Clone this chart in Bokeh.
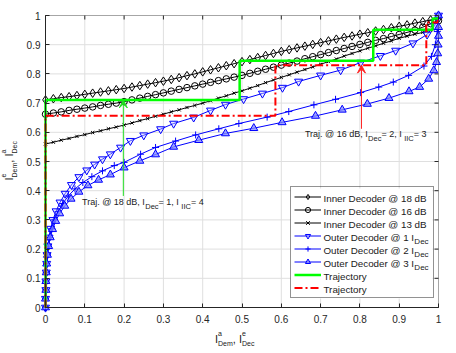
from math import pi
from bokeh.plotting import figure
from bokeh.models import (Range1d, FixedTicker, NumeralTickFormatter, Label,
                          Arrow, VeeHead, Legend, LegendItem, BoxAnnotation)
from bokeh.embed import file_html
from bokeh.resources import INLINE

# ---------------- data ----------------
inner_x = [0.00, 0.02, 0.04, 0.06, 0.08, 0.10, 0.12, 0.14, 0.16, 0.18,
           0.20, 0.22, 0.24, 0.26, 0.28, 0.30, 0.32, 0.34, 0.36, 0.38,
           0.40, 0.42, 0.44, 0.46, 0.48, 0.50, 0.52, 0.54, 0.56, 0.58,
           0.60, 0.62, 0.64, 0.66, 0.68, 0.70, 0.72, 0.74, 0.76, 0.78,
           0.80, 0.82, 0.84, 0.86, 0.88, 0.90, 0.92, 0.94, 0.96, 0.98, 1.00]

inner_18dB = [0.711, 0.715, 0.719, 0.722, 0.726, 0.730, 0.734, 0.738, 0.742, 0.746,
              0.750, 0.755, 0.760, 0.765, 0.770, 0.775, 0.781, 0.787, 0.794, 0.800,
              0.807, 0.814, 0.821, 0.828, 0.835, 0.842, 0.849, 0.856, 0.863, 0.870,
              0.877, 0.883, 0.889, 0.895, 0.901, 0.907, 0.913, 0.919, 0.925, 0.930,
              0.936, 0.941, 0.947, 0.952, 0.958, 0.963, 0.968, 0.974, 0.979, 0.985, 0.990]

inner_16dB = [0.662, 0.666, 0.670, 0.675, 0.679, 0.683, 0.687, 0.692, 0.696, 0.700,
              0.705, 0.711, 0.717, 0.723, 0.729, 0.735, 0.741, 0.747, 0.753, 0.759,
              0.765, 0.771, 0.777, 0.783, 0.789, 0.795, 0.802, 0.809, 0.816, 0.823,
              0.830, 0.837, 0.844, 0.852, 0.859, 0.866, 0.873, 0.880, 0.887, 0.894,
              0.901, 0.908, 0.915, 0.921, 0.928, 0.935, 0.942, 0.950, 0.960, 0.972, 0.982]

inner_13dB = [0.560, 0.566, 0.573, 0.579, 0.586, 0.592, 0.599, 0.605, 0.612, 0.618,
              0.625, 0.632, 0.640, 0.647, 0.655, 0.662, 0.670, 0.677, 0.685, 0.692,
              0.700, 0.708, 0.717, 0.725, 0.734, 0.742, 0.751, 0.760, 0.770, 0.779,
              0.788, 0.797, 0.806, 0.815, 0.824, 0.833, 0.842, 0.851, 0.861, 0.870,
              0.879, 0.888, 0.896, 0.905, 0.913, 0.922, 0.929, 0.936, 0.942, 0.949, 0.955]

outer1_x = [0.000, 0.000, 0.001, 0.001, 0.002, 0.003, 0.004, 0.006, 0.009, 0.013,
            0.019, 0.027, 0.037, 0.050, 0.066, 0.085, 0.105, 0.125, 0.145, 0.165,
            0.191, 0.216, 0.250, 0.293, 0.326, 0.377, 0.420, 0.458, 0.504, 0.552,
            0.603, 0.644, 0.700, 0.751, 0.802, 0.852, 0.891, 0.935, 0.971, 0.990, 1.000]
outer1_y = [0.000, 0.030, 0.060, 0.090, 0.120, 0.150, 0.180, 0.210, 0.240, 0.270,
            0.300, 0.330, 0.360, 0.390, 0.420, 0.447, 0.470, 0.490, 0.508, 0.525,
            0.548, 0.571, 0.590, 0.611, 0.630, 0.651, 0.675, 0.695, 0.714, 0.733,
            0.753, 0.774, 0.795, 0.813, 0.839, 0.862, 0.880, 0.905, 0.935, 0.965, 1.000]

outer2_x = [0.000, 0.000, 0.001, 0.001, 0.002, 0.003, 0.005, 0.007, 0.011, 0.016,
            0.023, 0.032, 0.044, 0.058, 0.075, 0.095, 0.118, 0.145, 0.175, 0.200,
            0.242, 0.280, 0.331, 0.382, 0.441, 0.492, 0.564, 0.619, 0.683, 0.738,
            0.802, 0.848, 0.885, 0.924, 0.963, 0.982, 0.992, 0.997, 1.000]
outer2_y = [0.000, 0.030, 0.060, 0.090, 0.120, 0.150, 0.180, 0.210, 0.240, 0.270,
            0.300, 0.328, 0.356, 0.382, 0.406, 0.428, 0.448, 0.468, 0.486, 0.497,
            0.525, 0.548, 0.570, 0.591, 0.612, 0.630, 0.652, 0.671, 0.694, 0.713,
            0.736, 0.755, 0.772, 0.795, 0.827, 0.860, 0.900, 0.945, 1.000]

outer3_x = [0.000, 0.000, 0.001, 0.001, 0.002, 0.003, 0.005, 0.008, 0.012, 0.018,
            0.026, 0.036, 0.049, 0.065, 0.085, 0.108, 0.135, 0.165, 0.200, 0.240,
            0.280, 0.326, 0.390, 0.458, 0.530, 0.602, 0.687, 0.755, 0.819, 0.874,
            0.925, 0.952, 0.975, 0.988, 0.995, 0.998, 0.999, 1.000, 1.000, 1.000]
outer3_y = [0.000, 0.030, 0.060, 0.090, 0.120, 0.150, 0.180, 0.210, 0.240, 0.268,
            0.296, 0.322, 0.348, 0.372, 0.396, 0.418, 0.437, 0.455, 0.479, 0.502,
            0.524, 0.550, 0.573, 0.596, 0.614, 0.634, 0.656, 0.677, 0.697, 0.717,
            0.740, 0.755, 0.783, 0.812, 0.840, 0.870, 0.900, 0.930, 0.960, 1.000]

traj18_x = [0.000, 0.000, 0.494, 0.494, 0.834, 0.834, 0.985, 0.985, 1.000]
traj18_y = [0.000, 0.711, 0.711, 0.845, 0.845, 0.951, 0.951, 0.990, 0.990]

traj16_x = [0.000, 0.000, 0.585, 0.585, 0.969, 0.969, 0.998, 0.998]
traj16_y = [0.000, 0.657, 0.657, 0.830, 0.830, 0.976, 0.976, 0.995]

x_ticks = [0.0, 0.1, 0.2, 0.3, 0.4, 0.5, 0.6, 0.7, 0.8, 0.9, 1.0]
y_ticks = [0.0, 0.1, 0.2, 0.3, 0.4, 0.5, 0.6, 0.7, 0.8, 0.9, 1.0]

legend_labels = ["Inner Decoder @ 18 dB", "Inner Decoder @ 16 dB", "Inner Decoder @ 13 dB",
                 "Outer Decoder @ 1 I", "Outer Decoder @ 2 I", "Outer Decoder @ 3 I",
                 "Trajectory", "Trajectory"]
legend_subscripts = [None, None, None, "Dec", "Dec", "Dec", None, None]

# ---------------- layout constants & helpers ----------------
FONT = "Liberation Sans"
AX = "#262626"
TXT = "#1a1a1a"
GRID = "#dfdfdf"
W, H = 456, 353
FL, FT, FW, FH = 45, 15, 393, 292          # axes box: left/top/width/height in page px
FB = FT + FH


def dx(px):                                 # page px -> data x
    return (px - FL) / FW


def dy(py):                                 # page px -> data y
    return (FB - py) / FH


# Liberation Sans (Arial metrics) advance widths per 1000 em
AW = {' ': 278, '.': 278, ',': 278, '=': 584, '@': 1015, 'I': 278, 'C': 722, 'D': 722,
      'B': 667, 'T': 611, 'O': 778, 'a': 556, 'c': 500, 'd': 556, 'e': 556, 'j': 222,
      'm': 833, 'n': 556, 'o': 556, 'r': 333, 't': 278, 'u': 556, 'y': 500}


def tw(s, size):
    return sum(AW.get(ch, 556) for ch in s) * size / 1000.0


# The drawing area covers the whole canvas; the [0,1]x[0,1] box sits inside it,
# so the axis titles (with sub/superscripts) are not clipped.
p = figure(width=W, height=H, output_backend="svg", toolbar_location=None,
           x_range=Range1d(dx(0), dx(W)), y_range=Range1d(dy(H), dy(0)),
           min_border=0, min_border_left=0, min_border_right=0,
           min_border_top=0, min_border_bottom=0)
p.background_fill_color = "white"
p.border_fill_color = "white"
p.outline_line_color = None
p.grid.visible = False


def style_axis(ax, ticks, standoff):
    ax.fixed_location = 0
    ax.bounds = (0, 1)
    ax.ticker = FixedTicker(ticks=ticks)
    ax.formatter = NumeralTickFormatter(format="0.[0]")
    ax.major_tick_in = 4
    ax.major_tick_out = 0
    ax.minor_tick_line_color = None
    ax.axis_line_color = AX
    ax.major_tick_line_color = AX
    ax.major_label_text_font = FONT
    ax.major_label_text_color = AX
    ax.major_label_text_font_size = "10px"
    ax.major_label_standoff = standoff


style_axis(p.xaxis[0], x_ticks, 7)
style_axis(p.yaxis[0], y_ticks, 5)

# grid lines inside the unit box
p.segment(x0=x_ticks, y0=[0.0] * len(x_ticks), x1=x_ticks, y1=[1.0] * len(x_ticks),
          line_color=GRID, line_width=1)
p.segment(x0=[0.0] * len(y_ticks), y0=y_ticks, x1=[1.0] * len(y_ticks), y1=y_ticks,
          line_color=GRID, line_width=1)

# ---------------- curves ----------------
BLUE = "#0000ff"
items = []

l = p.line(inner_x, inner_18dB, line_color="black", line_width=1)
m = p.scatter(inner_x, inner_18dB, marker="diamond", size=8.5, line_color="black", fill_color=None)
items.append([l, m])
l = p.line(inner_x, inner_16dB, line_color="black", line_width=1)
m = p.scatter(inner_x, inner_16dB, marker="circle", size=6.5, line_color="black", fill_color=None)
items.append([l, m])
l = p.line(inner_x, inner_13dB, line_color="black", line_width=1)
m = p.scatter(inner_x, inner_13dB, marker="x", size=4.5, line_color="black")
items.append([l, m])

l = p.line(outer1_x, outer1_y, line_color=BLUE, line_width=1)
m = p.scatter(outer1_x, outer1_y, marker="inverted_triangle", size=8, line_color=BLUE,
              fill_color="#c8ccff", fill_alpha=0.35)
items.append([l, m])
l = p.line(outer2_x, outer2_y, line_color=BLUE, line_width=1)
m = p.scatter(outer2_x, outer2_y, marker="cross", size=7, line_color=BLUE)
items.append([l, m])
l = p.line(outer3_x, outer3_y, line_color=BLUE, line_width=1)
m = p.scatter(outer3_x, outer3_y, marker="triangle", size=8, line_color=BLUE,
              fill_color="#8088ff", fill_alpha=0.75)
items.append([l, m])

g = p.line(traj18_x, traj18_y, line_color="#00ff00", line_width=2.5)
items.append([g])
r = p.line(traj16_x, traj16_y, line_color="#ff0000", line_width=2, line_dash="8 3 2 3")
items.append([r])

# box around the axes, with inward ticks on the top and right edges (MATLAB style)
p.add_layout(BoxAnnotation(left=0, right=1, bottom=0, top=1, fill_alpha=0.0,
                           line_color=AX, line_width=1))
p.ray(x=x_ticks, y=[1.0] * len(x_ticks), length=4, length_units="screen", angle=-pi / 2,
      line_color=AX, line_width=1)
p.ray(x=[1.0] * len(y_ticks), y=y_ticks, length=4, length_units="screen", angle=pi,
      line_color=AX, line_width=1)

# ---------------- legend (Bokeh legend for the glyph samples, texts as labels) ----------------
LEG_L, LEG_B, PAD, ROW, GW, STAND, LW = 290, 298, 3, 13, 27, 3, 106
LFS, LSUB = 9.8, 8
leg_w = 2 * PAD + GW + STAND + LW
leg_h = 2 * PAD + ROW * len(legend_labels)
p.add_layout(BoxAnnotation(left=dx(LEG_L), right=dx(LEG_L + leg_w),
                           bottom=dy(LEG_B), top=dy(LEG_B - leg_h),
                           fill_color="white", fill_alpha=1.0, line_color=None))
legend = Legend(items=[LegendItem(label=" ", renderers=rr) for rr in items],
                location=(LEG_L, H - LEG_B), margin=0, padding=PAD, spacing=0,
                glyph_width=GW, glyph_height=ROW, label_height=ROW, label_width=LW,
                label_standoff=STAND, label_text_font=FONT, label_text_font_size="%gpx" % LFS,
                label_text_color=TXT, border_line_color=AX, border_line_width=1,
                background_fill_alpha=0.0)
p.add_layout(legend)

text_px0 = LEG_L + PAD + GW + STAND
for i, (txt, sub) in enumerate(zip(legend_labels, legend_subscripts)):
    cy = LEG_B - leg_h + PAD + ROW * i + ROW / 2.0
    p.add_layout(Label(x=dx(text_px0), y=dy(cy), text=txt, level="overlay",
                       text_font=FONT, text_font_size="%gpx" % LFS, text_color=TXT,
                       text_baseline="middle", text_align="left"))
    if sub:
        p.add_layout(Label(x=dx(text_px0 + tw(txt, LFS) + 0.3), y=dy(cy + 4.5), text=sub,
                           level="overlay", text_font=FONT, text_font_size="%gpx" % LSUB,
                           text_color=TXT, text_baseline="middle", text_align="left"))


# ---------------- texts with sub/superscripts ----------------
def piece(x, y, txt, sz, along, perp, vertical):
    if vertical:
        xo, yo, ang = -perp, along, pi / 2
    else:
        xo, yo, ang = along, perp, 0.0
    p.add_layout(Label(x=x, y=y, x_offset=xo, y_offset=yo, text=txt, angle=ang,
                       text_font=FONT, text_font_size="%gpx" % sz, text_color=TXT,
                       text_baseline="middle", text_align="left", level="overlay"))


def rich(x, y, segments, size, sub_size, sup_dy, sub_dy, vertical=False):
    off = 0.0
    for normal, sup, sub in segments:
        if normal:
            piece(x, y, normal, size, off, 0.0, vertical)
            off += tw(normal, size)
        adv = 0.0
        if sup:
            piece(x, y, sup, sub_size, off, sup_dy, vertical)
            adv = max(adv, tw(sup, sub_size))
        if sub:
            piece(x, y, sub, sub_size, off, -sub_dy, vertical)
            adv = max(adv, tw(sub, sub_size))
        off += adv


# trajectory annotations
rich(0.093, 0.363, [("Traj. @ 18 dB, I", None, "Dec"), (" = 1, I", None, "IIC"), (" = 4", None, None)],
     9, 7.5, 5, 4.5)
rich(0.660, 0.595, [("Traj. @ 16 dB, I", None, "Dec"), (" = 2, I", None, "IIC"), (" = 3", None, None)],
     9, 7.5, 5, 4.5)

p.add_layout(Arrow(end=VeeHead(size=8, line_color="#22dd22", fill_color="#22dd22", line_width=1),
                   x_start=0.198, y_start=0.382, x_end=0.198, y_end=0.711,
                   line_color="#22dd22", line_width=1))
p.add_layout(Arrow(end=VeeHead(size=8, line_color="#ff2222", fill_color="#ff2222", line_width=1),
                   x_start=0.804, y_start=0.612, x_end=0.804, y_end=0.830,
                   line_color="#ff2222", line_width=1))

# axis titles
rich(dx(214.5), dy(338.0), [("I", "a", "Dem"), (", I", "e", "Dec")], 11, 7, 5.3, 4.7)
rich(dx(8.0), dy(180.0), [("I", "e", "Dem"), (", I", "a", "Dec")], 11, 7, 4.7, 6.0, vertical=True)

open("out.html", "w").write(file_html(p, INLINE))
